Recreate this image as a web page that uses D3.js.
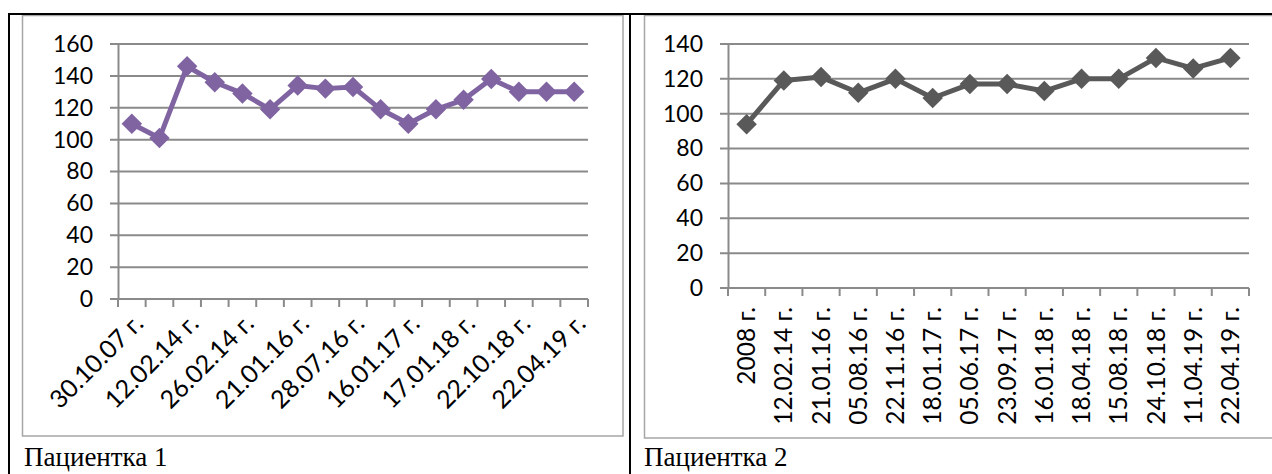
<!DOCTYPE html>
<html>
<head>
<meta charset="utf-8">
<script src="https://cdn.jsdelivr.net/npm/d3@7"></script>
<style>
  html, body { margin: 0; padding: 0; background: #fff; }
  svg { display: block; }
</style>
</head>
<body>
<svg id="chart" width="1272" height="474"></svg>
<script>
// Patient 1: every second category carries a date label
const categories1 = ["30.10.07 г.", "", "12.02.14 г.", "", "26.02.14 г.", "", "21.01.16 г.", "",
  "28.07.16 г.", "", "16.01.17 г.", "", "17.01.18 г.", "", "22.10.18 г.", "", "22.04.19 г."];
const values1 = [110, 101, 146, 136, 129, 119, 134, 132, 133, 119, 110, 119, 125, 138, 130, 130, 130];
const yTicks1 = [0, 20, 40, 60, 80, 100, 120, 140, 160];

// Patient 2
const categories2 = ["2008 г.", "12.02.14 г.", "21.01.16 г.", "05.08.16 г.", "22.11.16 г.", "18.01.17 г.",
  "05.06.17 г.", "23.09.17 г.", "16.01.18 г.", "18.04.18 г.", "15.08.18 г.", "24.10.18 г.",
  "11.04.19 г.", "22.04.19 г."];
const values2 = [94, 119, 121, 112, 120, 109, 117, 117, 113, 120, 120, 132, 126, 132];
const yTicks2 = [0, 20, 40, 60, 80, 100, 120, 140];

const captions = ["Пациентка 1", "Пациентка 2"];

const svg = d3.select("#chart");
const GRID = "#8a8a8a";
const LABEL_FONT = "Lato, 'Open Sans', sans-serif";

// table frame and chart frames
svg.append("rect").attr("x", 22.5).attr("y", 15.5).attr("width", 600.5).attr("height", 420.5)
  .attr("fill", "none").attr("stroke", "#a6a6a6").attr("stroke-width", 1.5);
svg.append("rect").attr("x", 644.5).attr("y", 15.5).attr("width", 660).attr("height", 422.5)
  .attr("fill", "none").attr("stroke", "#a6a6a6").attr("stroke-width", 1.5);
svg.append("line").attr("x1", 8).attr("x2", 1272).attr("y1", 14).attr("y2", 14)
  .attr("stroke", "#000").attr("stroke-width", 2);
svg.append("line").attr("x1", 9).attr("x2", 9).attr("y1", 13).attr("y2", 474)
  .attr("stroke", "#000").attr("stroke-width", 2);
svg.append("line").attr("x1", 630).attr("x2", 630).attr("y1", 13).attr("y2", 474)
  .attr("stroke", "#000").attr("stroke-width", 2);

function drawPanel(opt) {
  const g = svg.append("g");
  const idx = d3.range(opt.values.length);
  const x = d3.scaleBand().domain(idx).range([opt.x0, opt.x1]).paddingInner(0).paddingOuter(0);
  const y = d3.scaleLinear().domain([0, d3.max(opt.yTicks)]).range([opt.y0, opt.yTop]);

  // horizontal gridlines (they start at the tick mark left of the axis)
  g.append("g").selectAll("line").data(opt.yTicks).join("line")
    .attr("x1", opt.x0 - 8).attr("x2", opt.x1)
    .attr("y1", d => y(d)).attr("y2", d => y(d))
    .attr("stroke", GRID).attr("stroke-width", 2);

  // value axis
  const yAxis = d3.axisLeft(y).tickValues(opt.yTicks).tickSize(0).tickPadding(25);
  const ya = g.append("g").attr("transform", `translate(${opt.x0},0)`).call(yAxis);
  ya.select(".domain").attr("stroke", GRID).attr("stroke-width", 2);
  ya.selectAll("text").attr("font-family", LABEL_FONT).attr("font-size", 23).attr("fill", "#000");

  // category tick marks at the band boundaries
  const bounds = idx.map(i => x(i)).concat([opt.x1]);
  g.append("g").selectAll("line").data(bounds).join("line")
    .attr("x1", d => d).attr("x2", d => d)
    .attr("y1", opt.y0).attr("y2", opt.y0 + 8)
    .attr("stroke", GRID).attr("stroke-width", 2);

  // category labels
  const cx = i => x(i) + x.bandwidth() / 2;
  const lbl = g.append("g").selectAll("text")
    .data(idx.filter(i => opt.categories[i] !== ""))
    .join("text")
    .attr("font-family", LABEL_FONT).attr("fill", "#000")
    .attr("text-anchor", "end")
    .text(i => opt.categories[i]);
  if (opt.rotate === -45) {
    lbl.attr("font-size", 25)
      .attr("transform", i => `translate(${cx(i) + 13},${opt.y0 + 26}) rotate(-45)`);
  } else {
    lbl.attr("font-size", 24.5).attr("dy", "0.35em")
      .attr("transform", i => `translate(${cx(i)},${opt.y0 + 19}) rotate(-90)`);
  }

  // series line and diamond markers
  const line = d3.line().x((d, i) => cx(i)).y(d => y(d));
  g.append("path").datum(opt.values).attr("d", line)
    .attr("fill", "none").attr("stroke", opt.color).attr("stroke-width", 5)
    .attr("stroke-linejoin", "round");
  const diamond = d3.symbol().type(d3.symbolSquare).size(210);
  g.append("g").selectAll("path").data(opt.values).join("path")
    .attr("d", diamond)
    .attr("transform", (d, i) => `translate(${cx(i)},${y(d)}) rotate(45)`)
    .attr("fill", opt.color);

  // caption below the chart frame
  svg.append("text").attr("x", opt.capX).attr("y", 466)
    .attr("font-family", "'Liberation Serif', 'Times New Roman', serif")
    .attr("font-size", 27).attr("fill", "#000")
    .text(opt.caption);
}

drawPanel({
  categories: categories1, values: values1, yTicks: yTicks1,
  x0: 118, x1: 588, y0: 299, yTop: 44, color: "#8064a2", rotate: -45,
  caption: captions[0], capX: 24
});
drawPanel({
  categories: categories2, values: values2, yTicks: yTicks2,
  x0: 728, x1: 1249, y0: 288, yTop: 44, color: "#595959", rotate: -90,
  caption: captions[1], capX: 644
});
</script>
</body>
</html>
